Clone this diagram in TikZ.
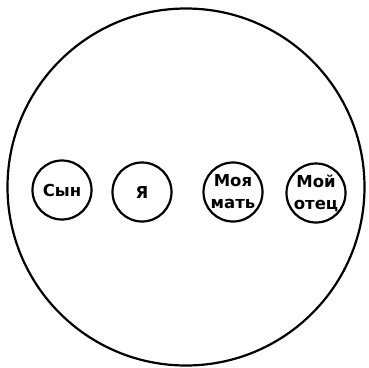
\documentclass[tikz,border=0pt]{standalone}
\usepackage{fontspec}
\setmainfont{DejaVu Sans}
\usetikzlibrary{positioning}

\begin{document}
\begin{tikzpicture}[
  x=1pt, y=-1pt,
  font=\fontsize{16.5}{22}\selectfont\bfseries,
  world/.style={circle, draw, line width=2.2pt, minimum size=357pt, inner sep=0pt},
  person/.style={circle, draw, line width=2.2pt, minimum size=59pt, inner sep=0pt, align=center}]
\useasboundingbox (0,0) rectangle (369,367);
\node[world] (family) at (186,187) {};
\node[person] (son) at (62,190) {Сын};
\node[person] (me) at (142,192) {Я};
\node[person] (mother) at (233,192) {Моя\\мать};
\node[person] (father) at (316,193) {Мой\\отец};
\end{tikzpicture}
\end{document}
